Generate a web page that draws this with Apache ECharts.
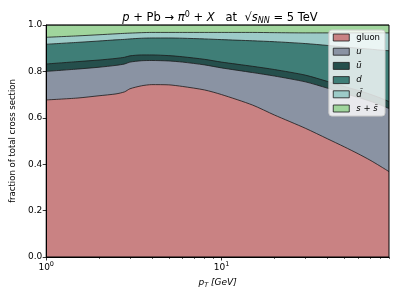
<!DOCTYPE html>
<html>
<head>
<meta charset="utf-8">
<script src="https://cdn.jsdelivr.net/npm/echarts@6/dist/echarts.min.js"></script>
<style>html,body{margin:0;padding:0;background:#fff;}#c{width:399px;height:299px;}</style>
</head>
<body>
<div id="c"></div>
<script>
// pT values [GeV]
const pT = [1, 1.5, 2, 2.5, 2.8, 3, 3.5, 4, 5, 6, 8, 10, 15, 20, 30, 40, 50, 60, 70, 80, 90];
// fractions of total cross section
const gluon = [0.677,0.685,0.695,0.703,0.712,0.725,0.738,0.743,0.742,0.735,0.720,0.700,0.655,0.612,0.555,0.510,0.475,0.445,0.418,0.392,0.368];
const uq    = [0.123,0.125,0.123,0.123,0.120,0.115,0.108,0.104,0.103,0.105,0.108,0.115,0.140,0.168,0.200,0.218,0.230,0.243,0.254,0.264,0.272];
const ubar  = [0.032,0.032,0.031,0.030,0.029,0.027,0.025,0.024,0.023,0.023,0.024,0.025,0.027,0.028,0.029,0.029,0.030,0.030,0.030,0.030,0.030];
const dq    = [0.085,0.083,0.082,0.080,0.077,0.073,0.072,0.073,0.076,0.080,0.088,0.097,0.110,0.120,0.136,0.155,0.170,0.182,0.194,0.206,0.219];
const dbar  = [0.030,0.028,0.027,0.026,0.026,0.025,0.024,0.024,0.024,0.025,0.028,0.031,0.036,0.039,0.046,0.054,0.061,0.066,0.070,0.074,0.077];
const ssbar = [0.053,0.047,0.042,0.038,0.036,0.035,0.033,0.032,0.032,0.032,0.032,0.032,0.032,0.033,0.034,0.034,0.034,0.034,0.034,0.034,0.034];

const names  = ['gluon', 'u', 'ū', 'd', 'd̄', 's + s̄'];
const colors = ['#c98283', '#8a93a3', '#254f4c', '#3f7e77', '#9dcbc8', '#a0d59d'];
const values = [gluon, uq, ubar, dq, dbar, ssbar];

const xMajor = [1, 10];
const xMinor = [2,3,4,5,6,7,8,9,20,30,40,50,60,70,80,90];

const FONT = 'DejaVu Sans';
const chart = echarts.init(document.getElementById('c'), null, {renderer: 'canvas'});

// cumulative stacking (done here so stacking is along y with a log x axis)
const cum = [];
values.forEach((v, k) => {
  cum.push(v.map((y, i) => (k ? cum[k - 1][i] : 0) + y));
});

const series = [];
for (let k = values.length - 1; k >= 0; k--) {
  series.push({
    name: names[k],
    type: 'line',
    xAxisIndex: 0,
    data: pT.map((x, i) => [x, Math.min(1, cum[k][i])]),
    symbol: 'none',
    smooth: 0.25,
    lineStyle: {color: '#1a1a1a', width: 0.8},
    itemStyle: {color: colors[k]},
    areaStyle: {color: colors[k], opacity: 1, origin: 'start'},
    z: 2
  });
}

const legendLabel = n => {
  if (n === 'gluon') return 'gluon';
  if (n === 's + s̄') return '{i|s} + {i|s̄}';
  return '{i|' + n + '}';
};

chart.setOption({
  animation: false,
  title: {
    text: '{i|p} + Pb → {i|π}{sup|0} + {i|X}   at  √{i|s}{sub|NN} = 5 TeV',
    left: 215, top: 6, textAlign: 'center',
    textStyle: {
      fontFamily: FONT, fontSize: 11.5, fontWeight: 'normal', color: '#000',
      rich: {
        i: {fontFamily: FONT, fontStyle: 'italic', fontSize: 11.5},
        sup: {fontFamily: FONT, fontSize: 8, verticalAlign: 'top', padding: [0,0,6,0]},
        sub: {fontFamily: FONT, fontStyle: 'italic', fontSize: 8, padding: [6,0,0,0]}
      }
    }
  },
  grid: {left: 41, right: 10, top: 25, bottom: 42, show: true, borderColor: '#000', borderWidth: 1, backgroundColor: 'transparent', z: 5},
  legend: {
    right: 14, top: 30, orient: 'vertical',
    itemWidth: 16, itemHeight: 7, itemGap: 5.2,
    icon: 'rect',
    backgroundColor: 'rgba(255,255,255,0.8)', borderColor: '#cccccc', borderWidth: 1, borderRadius: 3,
    padding: [3, 5, 3, 4],
    data: names.map((n, k) => ({name: n, itemStyle: {color: colors[k], borderColor: '#1a1a1a', borderWidth: 0.8}})),
    formatter: legendLabel,
    textStyle: {fontFamily: FONT, fontSize: 8.5, color: '#000', padding: [0,0,0,2],
      rich: {i: {fontFamily: FONT, fontStyle: 'italic', fontSize: 8.5}}}
  },
  xAxis: [{
    type: 'log', logBase: 10, min: 1, max: 90,
    name: '{i|p}{sub|T} {i|[GeV]}', nameLocation: 'middle', nameGap: 20,
    nameTextStyle: {fontFamily: FONT, fontSize: 9, color: '#000',
      rich: {i: {fontFamily: FONT, fontStyle: 'italic', fontSize: 9}, sub: {fontFamily: FONT, fontStyle: 'italic', fontSize: 6.5, padding: [5,0,0,0]}}},
    axisLine: {show: true, onZero: false, lineStyle: {color: '#000', width: 1}},
    axisTick: {show: true, inside: false, length: 3.5, lineStyle: {color: '#000', width: 0.8}, customValues: xMajor},
    axisLabel: {
      customValues: xMajor, margin: 4,
      formatter: v => '10{sup|' + Math.round(Math.log10(v)) + '}',
      fontFamily: FONT, fontSize: 9, color: '#000',
      rich: {sup: {fontFamily: FONT, fontSize: 6.5, padding: [0,0,6,0]}}
    },
    splitLine: {show: false}, minorTick: {show: false}, z: 6
  }, {
    type: 'log', logBase: 10, min: 1, max: 90, position: 'bottom',
    axisLine: {show: false},
    axisTick: {show: true, length: 2, lineStyle: {color: '#000', width: 0.6}, customValues: xMinor},
    axisLabel: {show: false}, splitLine: {show: false}, z: 6
  }],
  yAxis: {
    type: 'value', min: 0, max: 1, interval: 0.2,
    name: 'fraction of total cross section', nameLocation: 'middle', nameGap: 28,
    nameTextStyle: {fontFamily: FONT, fontSize: 8.5, color: '#000'},
    axisLine: {show: true, lineStyle: {color: '#000', width: 1}},
    axisTick: {show: true, length: 3.5, lineStyle: {color: '#000', width: 0.8}},
    axisLabel: {fontFamily: FONT, fontSize: 9, color: '#000', margin: 4, formatter: v => v.toFixed(1)},
    splitLine: {show: false}, z: 6
  },
  series: series.concat([{type: 'line', xAxisIndex: 1, data: [], silent: true}])
});
</script>
</body>
</html>
